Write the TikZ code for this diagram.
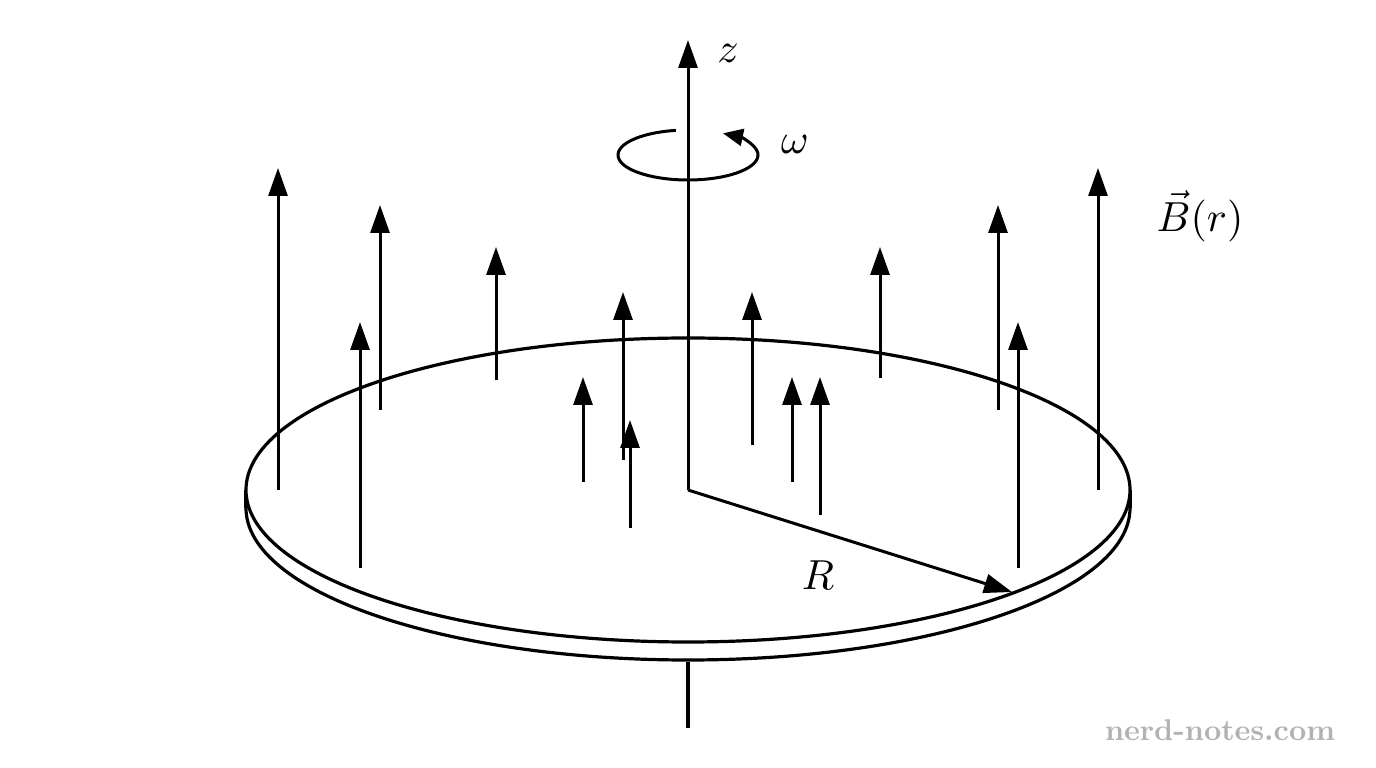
\documentclass[tikz,border=0pt]{standalone}
\usetikzlibrary{arrows.meta}
\begin{document}
\begin{tikzpicture}[x=1pt,y=1pt,
  line/.style={line width=3.2pt},
  vec/.style={line width=3pt,-{Triangle[length=28pt,width=19pt]}},
  lab/.style={scale=4.2}]
\useasboundingbox (0,0) rectangle (1376,768);
% disk
\coordinate (c) at (688,278);
\coordinate (cb) at (688,260);
\draw[line,fill=white] (cb) ellipse [x radius=442, y radius=152];
\fill[white] (246,260) rectangle (1130,278);
\draw[line] (246,278) -- (246,260) (1130,278) -- (1130,260);
\draw[line,fill=white] (c) ellipse [x radius=442, y radius=152];
% axis
\coordinate (ztop) at (688,728);
\coordinate (zb1) at (688,106);
\coordinate (zb2) at (688,40);
\draw[line] (zb1) -- (zb2);
% rotation
\draw[line width=3pt,-{Triangle[length=20pt,width=17pt]}] ({688+70*cos(100)},{613+25*sin(100)}) arc[start angle=100,end angle=420,x radius=70,y radius=25];
\draw[vec] (c) -- (ztop);
\node[lab] (z) at (728,715) {$z$};
\node[lab] (w) at (795,624) {$\omega$};
% field arrows
\foreach \x/\b/\t in {278/490/168, 380/410/205, 360/568/322, 496/380/247, 623/460/292,
   583/482/377, 630/528/420, 752/445/292, 792/482/377, 820/515/377, 880/378/247,
   998/410/205, 1018/568/322, 1098/490/168}
  \draw[vec] (\x,768-\b) -- (\x,768-\t);
\node[lab] (B) at (1200,552) {$\vec{B}(r)$};
% radius
\coordinate (Rend) at (1012,176);
\draw[vec] (c) -- (Rend);
\node[lab] (R) at (818,193) {$R$};
\node[scale=3,font=\bfseries,text=black!30] (wm) at (1220,38) {nerd-notes.com};
\end{tikzpicture}
\end{document}
